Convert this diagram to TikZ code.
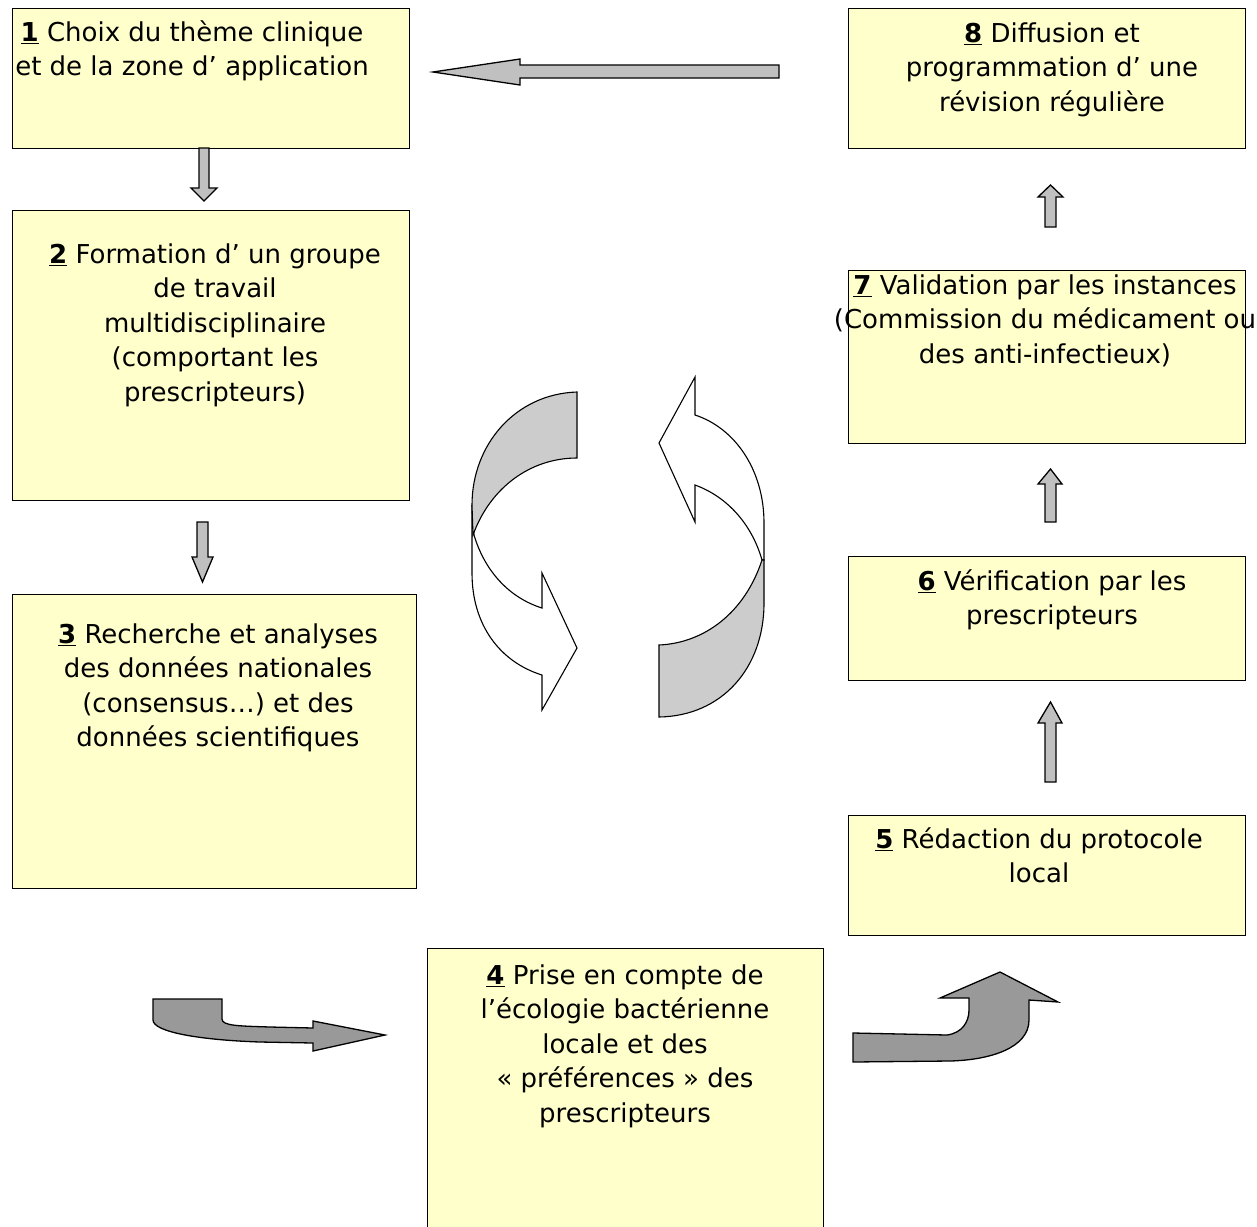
\documentclass[tikz,border=0pt]{standalone}
\usepackage{fontspec}
\setmainfont{DejaVu Sans}
\definecolor{boxfill}{HTML}{FFFFCC}
\definecolor{arrgrey}{HTML}{C0C0C0}
\definecolor{bentgrey}{HTML}{999999}
\definecolor{ringgrey}{HTML}{CCCCCC}
\begin{document}
\begin{tikzpicture}[x=1pt,y=-1pt,
  stepbox/.style={draw=black, line width=1.3pt, fill=boxfill, inner sep=0pt, anchor=north west},
  steptext/.style={anchor=north, align=center, inner sep=0pt, font=\fontsize{26}{34.5}\selectfont},
  blockarrow/.style={draw=black, line width=1.3pt, fill=arrgrey, line join=miter},
  bentarrow/.style={draw=black, line width=1.3pt, fill=bentgrey, line join=miter},
  ringfront/.style={draw=black, line width=1.1pt, fill=white, line join=miter},
  ringback/.style={draw=black, line width=1.1pt, fill=ringgrey, line join=miter}]
\useasboundingbox (0,0) rectangle (1257,1226);
\fill[white] (0,0) rectangle (1257,1226);

% boxes
\node[stepbox, minimum width=397pt, minimum height=140pt] (b1) at (12,8) {};
\node[stepbox, minimum width=397pt, minimum height=290pt] (b2) at (12,210) {};
\node[stepbox, minimum width=404pt, minimum height=294pt] (b3) at (12,594) {};
\node[stepbox, minimum width=396pt, minimum height=300pt] (b4) at (427,948) {};
\node[stepbox, minimum width=397pt, minimum height=120pt] (b5) at (848,815) {};
\node[stepbox, minimum width=397pt, minimum height=124pt] (b6) at (848,556) {};
\node[stepbox, minimum width=397pt, minimum height=173pt] (b7) at (848,270) {};
\node[stepbox, minimum width=397pt, minimum height=140pt] (b8) at (848,8) {};

% texts
\node[steptext] (t1) at (192,17) {\strut\underline{\textbf{1}} Choix du thème clinique\\et de la zone d’ application};
\node[steptext] (t2) at (215,239) {\strut\underline{\textbf{2}} Formation d’ un groupe\\de travail\\multidisciplinaire\\(comportant les\\prescripteurs)};
\node[steptext] (t3) at (218,619) {\strut\underline{\textbf{3}} Recherche et analyses\\des données nationales\\(consensus…) et des\\données scientifiques};
\node[steptext] (t4) at (625,960) {\strut\underline{\textbf{4}} Prise en compte de\\l’écologie bactérienne\\locale et des\\« préférences » des\\prescripteurs};
\node[steptext] (t5) at (1039,824) {\strut\underline{\textbf{5}} Rédaction du protocole\\local};
\node[steptext] (t6) at (1052,566) {\strut\underline{\textbf{6}} Vérification par les\\prescripteurs};
\node[steptext] (t7) at (1045,270) {\strut\underline{\textbf{7}} Validation par les instances\\(Commission du médicament ou\\des anti-infectieux)};
\node[steptext] (t8) at (1052,18) {\strut\underline{\textbf{8}} Diffusion et\\programmation d’ une\\révision régulière};

% straight block arrows
\draw[blockarrow] (779,65) -- (520,65) -- (520,59) -- (433,72) -- (520,85) -- (520,78) -- (779,78) -- cycle;
\draw[blockarrow] (199,148) -- (209,148) -- (209,188) -- (217,188) -- (204,201) -- (191,188) -- (199,188) -- cycle;
\draw[blockarrow] (197,522) -- (208,522) -- (208,557) -- (213,557) -- (202.5,582) -- (192,557) -- (197,557) -- cycle;
\draw[blockarrow] (1045,227) -- (1045,197) -- (1038,197) -- (1050.5,185) -- (1063,197) -- (1056,197) -- (1056,227) -- cycle;
\draw[blockarrow] (1045,522) -- (1045,484) -- (1038,484) -- (1050.5,469) -- (1062,484) -- (1056,484) -- (1056,522) -- cycle;
\draw[blockarrow] (1045,782) -- (1045,723) -- (1038,723) -- (1050.5,702) -- (1062,723) -- (1056,723) -- (1056,782) -- cycle;

% bent arrows
\draw[bentarrow] (153,999) -- (222,999) -- (222,1019) .. controls (222,1026) and (240,1026) .. (270,1027) -- (313,1028) -- (313,1021) -- (385,1035) -- (313,1051) -- (313,1043) -- (260,1042) .. controls (200,1040) and (153,1032) .. (153,1020) -- cycle;
\draw[bentarrow] (853,1033) -- (947,1035) .. controls (962,1033) and (969,1022) .. (969,1010) -- (969,998) -- (940,998) -- (1000,972) -- (1058,1002) -- (1029,1000) -- (1029,1020) .. controls (1029,1048) and (990,1060) .. (950,1061) -- (853,1062) -- cycle;

% circular arrows (left)
\draw[ringfront] (472,505) -- (472,573) .. controls (472,625) and (500,662) .. (542,675) -- (542,710) -- (577,648) -- (542,573) -- (542,608) .. controls (510,598) and (485,572) .. (474,535) -- cycle;
\draw[ringback] (577,392) .. controls (515,394) and (472,445) .. (472,505) -- (473,535) .. controls (490,488) and (530,458) .. (577,458) -- cycle;
% circular arrows (right)
\draw[ringfront] (695,377) -- (659,443) -- (695,522) -- (695,485) .. controls (728,497) and (752,525) .. (762,560) -- (764,560) -- (764,523) .. controls (764,470) and (735,428) .. (695,415) -- cycle;
\draw[ringback] (762,560) .. controls (745,612) and (705,643) .. (659,645) -- (659,717) .. controls (722,716) and (764,668) .. (764,603) -- (764,560) -- cycle;
\end{tikzpicture}
\end{document}
